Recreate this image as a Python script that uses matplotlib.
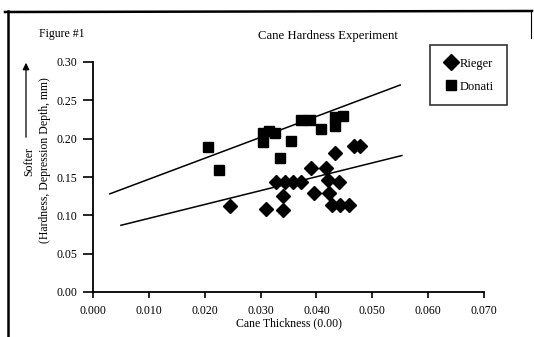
import matplotlib
matplotlib.use('Agg')
import matplotlib.pyplot as plt
from matplotlib.lines import Line2D

plt.rcParams['font.family'] = ['Liberation Serif', 'DejaVu Serif']

# Rieger (diamonds)
rieger_x = [0.0245, 0.031, 0.034, 0.034, 0.0328, 0.0343, 0.0358, 0.0373, 0.039, 0.0417,
            0.0395, 0.0422, 0.042, 0.044, 0.0433, 0.0468, 0.0478, 0.0428, 0.0443, 0.0458]
rieger_y = [0.112, 0.108, 0.107, 0.125, 0.144, 0.144, 0.144, 0.144, 0.162, 0.162,
            0.129, 0.129, 0.146, 0.144, 0.181, 0.190, 0.190, 0.114, 0.114, 0.114]

# Donati (squares)
donati_x = [0.0205, 0.0225, 0.0305, 0.0315, 0.0305, 0.0325, 0.0355, 0.0335, 0.0372, 0.0388,
            0.0408, 0.0433, 0.0448, 0.0433]
donati_y = [0.189, 0.159, 0.208, 0.210, 0.196, 0.207, 0.197, 0.175, 0.224, 0.224,
            0.212, 0.228, 0.229, 0.216]

# trend lines (end points)
donati_fit_x = [0.003, 0.055]
donati_fit_y = [0.128, 0.270]
rieger_fit_x = [0.005, 0.0553]
rieger_fit_y = [0.087, 0.178]

xticks = [0.0, 0.01, 0.02, 0.03, 0.04, 0.05, 0.06, 0.07]
yticks = [0.0, 0.05, 0.10, 0.15, 0.20, 0.25, 0.30]

W, H = 534, 337
fig = plt.figure(figsize=(W / 100, H / 100), dpi=100)
ax = fig.add_axes([93 / W, 1 - 292 / H, (484 - 93) / W, (292 - 62) / H])

ax.plot(donati_fit_x, donati_fit_y, color='black', lw=1.1)
ax.plot(rieger_fit_x, rieger_fit_y, color='black', lw=1.1)
ax.plot(rieger_x, rieger_y, 'D', color='black', markersize=7, label='Rieger', ls='none')
ax.plot(donati_x, donati_y, 's', color='black', markersize=7, label='Donati', ls='none')

ax.set_xlim(0, 0.07)
ax.set_ylim(0, 0.30)
ax.set_xticks(xticks)
ax.set_yticks(yticks)
ax.set_xticklabels(['%.3f' % v for v in xticks])
ax.set_yticklabels(['%.2f' % v for v in yticks])
ax.spines['top'].set_visible(False)
ax.spines['right'].set_visible(False)
for s in ['left', 'bottom']:
    ax.spines[s].set_linewidth(1.3)
ax.tick_params(axis='y', direction='out', length=7, width=1.2, labelsize=8.5, pad=4)
ax.tick_params(axis='x', direction='out', length=4, width=1.2, labelsize=8.5, pad=5)

ax.set_xlabel('Cane Thickness (0.00)', fontsize=8.5, labelpad=0.5)

leg = ax.legend(loc='upper left', bbox_to_anchor=(430 / W, 1 - 45 / H, (512 - 430) / W, 0),
                bbox_transform=fig.transFigure, fontsize=9, frameon=True, fancybox=False,
                handletextpad=0.1, handlelength=1.3, borderpad=1.0, labelspacing=0.9,
                borderaxespad=0, markerscale=1.1)
leg.get_frame().set_edgecolor('black')
leg.get_frame().set_linewidth(1.2)

fig.text(62 / W, 1 - 34 / H, 'Figure #1', fontsize=8.5, ha='center', va='center')
fig.text(328 / W, 1 - 36 / H, 'Cane Hardness Experiment', fontsize=9.2, ha='center', va='center')

# y label pieces
fig.text(29 / W, 1 - 162 / H, 'Softer', fontsize=8.5, rotation=90, ha='center', va='center')
fig.text(45 / W, 1 - 160 / H, '(Hardness, Depression Depth, mm)', fontsize=8.5,
         rotation=90, ha='center', va='center')
fig.add_artist(matplotlib.patches.FancyArrowPatch((26 / W, 1 - 140 / H), (26 / W, 1 - 60 / H),
                                                 transform=fig.transFigure, arrowstyle='-|>',
                                                 mutation_scale=10, lw=0.9, color='black'))

# scanned page frame
fig.add_artist(Line2D([5 / W, 532 / W], [1 - 12 / H, 1 - 11 / H], transform=fig.transFigure,
                      color='black', lw=1.8))
fig.add_artist(Line2D([8 / W, 8 / W], [1 - 11 / H, 0], transform=fig.transFigure,
                      color='black', lw=1.8))
fig.add_artist(Line2D([531 / W, 531 / W], [1 - 11 / H, 1 - 38 / H], transform=fig.transFigure,
                      color='black', lw=0.8))

fig.savefig('out.png', dpi=100)
